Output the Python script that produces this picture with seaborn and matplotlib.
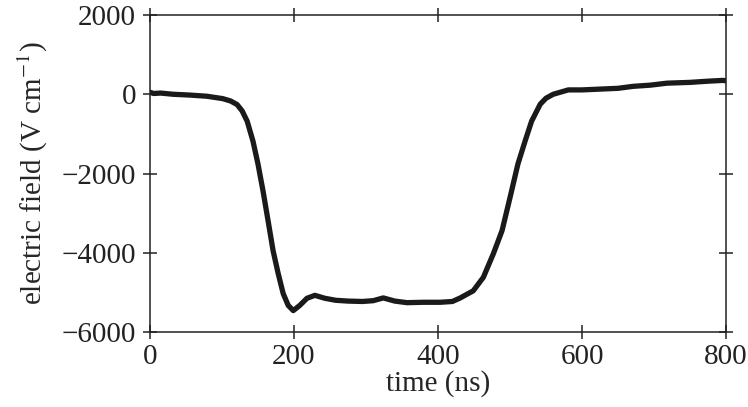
import numpy as np
import pandas as pd
import seaborn as sns
from matplotlib import pyplot as plt

# 電界の時間変化 (ns, V/cm) -- 図から読み取った値
time_ns = [0, 5, 15, 32, 55, 79, 101, 112, 121, 128, 135, 143, 150, 157, 164,
           171, 178, 185, 192, 199, 208, 218, 229, 243, 258, 275, 295, 310,
           324, 340, 357, 380, 403, 420, 431, 449, 463, 477, 489, 500, 511,
           521, 530, 542, 550, 560, 581, 600, 625, 650, 671, 695, 718, 750,
           775, 796, 800]
field = [50, 20, 30, 0, -20, -50, -110, -170, -260, -420, -680, -1180, -1760,
         -2440, -3190, -3950, -4520, -5030, -5330, -5460, -5330, -5150, -5075,
         -5150, -5200, -5220, -5230, -5210, -5140, -5220, -5260, -5250, -5250,
         -5230, -5140, -4960, -4620, -4020, -3440, -2610, -1760, -1180, -680,
         -250, -100, 0, 110, 110, 130, 150, 200, 230, 280, 300, 330, 350, 340]

df = pd.DataFrame({"time": time_ns, "field": field})

sns.set_style("ticks")
plt.rcParams["font.family"] = ["Liberation Serif", "DejaVu Serif"]
plt.rcParams["mathtext.fontset"] = "stix"

fig = plt.figure(figsize=(7.48, 4.07), dpi=100)
ax = fig.add_axes([0.2005, 0.1843, 0.7701, 0.7788])

sns.lineplot(data=df, x="time", y="field", color="#1a1a1a", linewidth=3.8, ax=ax)

ax.set_xlim(0, 800)
ax.set_ylim(-6000, 2000)
ax.set_xticks([0, 200, 400, 600, 800])
ax.set_yticks([-6000, -4000, -2000, 0, 2000])
ax.set_xlabel("time (ns)", fontsize=21, labelpad=0)
ax.set_ylabel("electric field (V cm$^{-1}$)", fontsize=21, labelpad=8)

for s in ax.spines.values():
    s.set_visible(True)
    s.set_linewidth(1.1)
    s.set_color("#222222")
ax.tick_params(axis="both", which="major", direction="inout", length=10,
               width=1.1, colors="#222222", labelsize=21, pad=4,
               top=True, right=True, labelcolor="#222222")
ax.tick_params(axis="y", pad=5)

plt.savefig("out.png", dpi=100)
